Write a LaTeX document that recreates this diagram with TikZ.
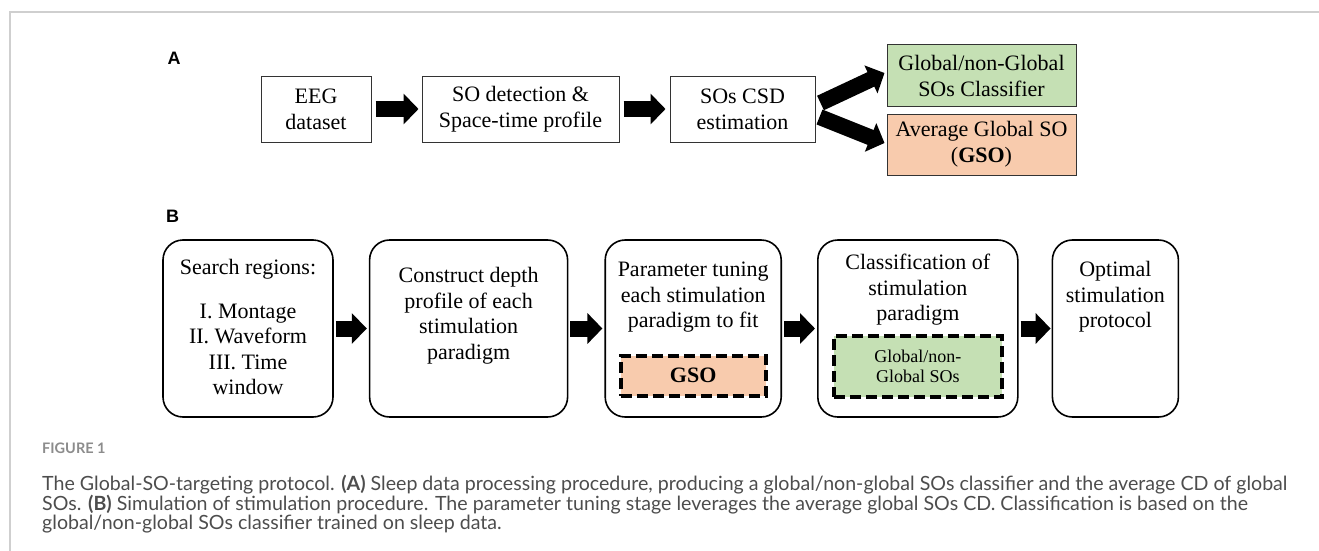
\documentclass[tikz,border=0pt]{standalone}
\usepackage{fontspec}
\setmainfont{Liberation Serif}
\newfontfamily\capfont{Lato}
\newfontfamily\panelfont{Liberation Sans}
\usetikzlibrary{positioning,arrows.meta}

\definecolor{clsgreen}{HTML}{C5E0B4}
\definecolor{gsopeach}{HTML}{F8CBAD}
\definecolor{framegray}{HTML}{CFCFCF}
\definecolor{capgray}{HTML}{4D4D4D}
\definecolor{figgray}{HTML}{8C8C8C}

\tikzset{
  sqbox/.style={draw=black!80, line width=1pt, align=center, inner sep=0pt,
    minimum height=66pt, font=\fontsize{22}{26}\selectfont},
  rbox/.style={draw, line width=1.6pt, rounded corners=20pt, minimum height=177pt},
  btext/.style={align=center, inner sep=0pt, font=\fontsize{22}{25.5}\selectfont},
  dbox/.style={draw, line width=4pt, dash pattern=on 11pt off 5pt, inner sep=0pt, align=center},
  fat/.style={line width=16pt, -{Triangle[length=15pt,width=30pt]}},
  panel/.style={inner sep=0pt, font=\panelfont\bfseries\fontsize{18}{18}\selectfont},
  captxt/.style={anchor=base west, inner sep=0pt, text=capgray,
    font=\capfont\fontsize{19.6}{20}\selectfont},
}

\begin{document}
\begin{tikzpicture}[x=1pt, y=-1pt]
  \useasboundingbox (0,0) rectangle (1319,551);
  \draw[framegray, line width=1.2pt] (1319,12) -- (10,12) -- (10,551);

  % panel A
  \node[panel] (labA) at (174,58.5) {A};
  \node[sqbox, minimum width=110pt] (eeg) at (316,109) {EEG\\dataset};
  \node[sqbox, minimum width=197pt, right=50pt of eeg] (sodet) {SO detection \&\\Space-time profile};
  \node[sqbox, minimum width=145pt, right=50pt of sodet] (csd) {SOs CSD\\estimation};
  \node[sqbox, fill=clsgreen, minimum width=189pt, minimum height=61pt] (cls) at (981.5,75.5) {Global/non-Global\\SOs Classifier};
  \node[sqbox, fill=gsopeach, minimum width=189pt, minimum height=61pt, below=7pt of cls] (avg) {Average Global SO\\(\textbf{GSO})};

  \draw[fat, shorten <=4pt, shorten >=3pt] (eeg) -- (sodet);
  \draw[fat, shorten <=4pt, shorten >=4pt] (sodet) -- (csd);
  \draw[fat] ([shift={(5,-6)}]csd.east) -- ([shift={(-2,-2.5)}]cls.west);
  \draw[fat] ([shift={(4,8)}]csd.east) -- ([shift={(-2,-1.5)}]avg.west);

  % panel B
  \node[panel] (labB) at (172.5,216) {B};
  \node[rbox, minimum width=170pt] (search) at (248,328.5) {};
  \node[rbox, minimum width=198pt, right=35pt of search] (constr) {};
  \node[rbox, minimum width=176pt, right=36pt of constr] (param) {};
  \node[rbox, minimum width=200pt, right=35pt of param] (classif) {};
  \node[rbox, minimum width=126pt, right=33pt of classif] (optim) {};

  \node[btext, below=20pt of search.north] (searcht) {Search regions:\\[18pt]I. Montage\\II. Waveform\\III. Time\\window};
  \node[btext, below=28pt of constr.north] (constrt) {Construct depth\\profile of each\\stimulation\\paradigm};
  \node[btext, below=23pt of param.north] (paramt) {Parameter tuning\\each stimulation\\paradigm to fit};
  \node[btext, below=15pt of classif.north] (classift) {Classification of\\stimulation\\paradigm};
  \node[btext, below=22pt of optim.north] (optimt) {Optimal\\stimulation\\protocol};

  \node[dbox, fill=gsopeach, minimum width=145pt, minimum height=40pt, above=20pt of param.south,
    font=\fontsize{22}{26}\selectfont] (gsoin) {\textbf{GSO}};
  \node[dbox, fill=clsgreen, minimum width=168pt, minimum height=61pt, above=19pt of classif.south,
    font=\fontsize{18}{20}\selectfont] (globin) {Global/non-\\Global SOs};

  \draw[fat, shorten <=2pt, shorten >=2pt] (search) -- (constr);
  \draw[fat, shorten <=2pt, shorten >=2pt] (constr) -- (param);
  \draw[fat, shorten <=2pt, shorten >=2pt] (param) -- (classif);
  \draw[fat, shorten <=2pt, shorten >=1pt] (classif) -- (optim);

  % caption
  \node[anchor=base west, inner sep=0pt, text=figgray, font=\capfont\bfseries\fontsize{14.5}{15}\selectfont] (figlbl) at (42,453) {FIGURE 1};
  \node[captxt] (cap1) at (42,490) {The Global-SO-targeting protocol. \textbf{(A)} Sleep data processing procedure, producing a global/non-global SOs classifier and the average CD of global};
  \node[captxt] (cap2) at (42,510) {SOs. \textbf{(B)} Simulation of stimulation procedure. The parameter tuning stage leverages the average global SOs CD. Classification is based on the};
  \node[captxt] (cap3) at (42,529) {global/non-global SOs classifier trained on sleep data.};
\end{tikzpicture}
\end{document}
